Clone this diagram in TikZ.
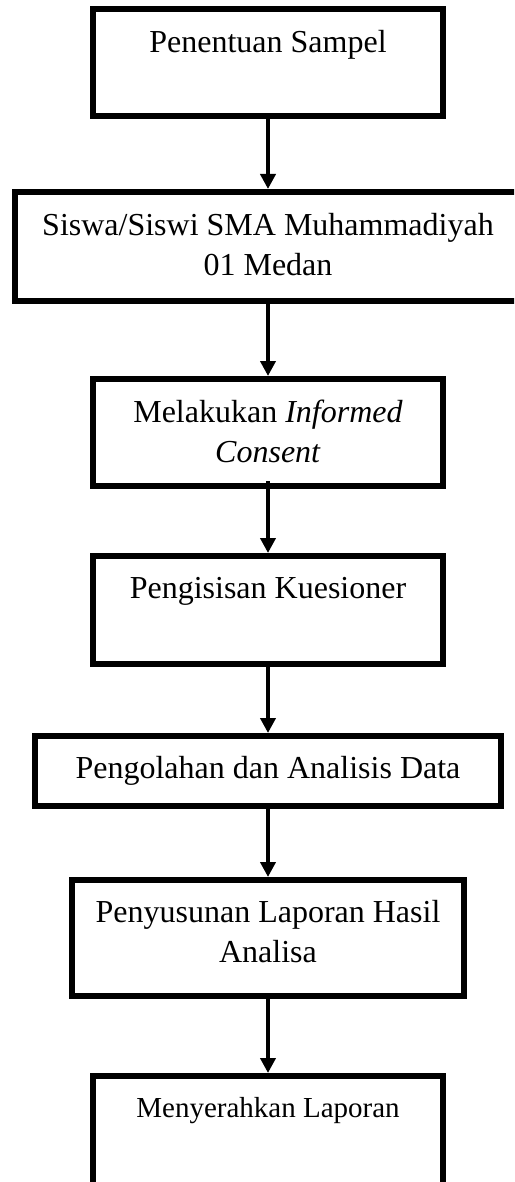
\documentclass[tikz,border=0pt]{standalone}
\usepackage{fontspec}
\setmainfont{Liberation Serif}
\usepackage{tikz}
\usetikzlibrary{positioning, arrows.meta}
\tikzstyle{flowbox}=[draw, shape=rectangle, line width=3pt, inner sep=0pt]
\tikzstyle{boxtext}=[inner sep=0pt, align=center, text height=11pt, font=\fontsize{16}{20}\selectfont]
\tikzstyle{twoline}=[boxtext, text height=31pt]
\tikzstyle{flow}=[line width=2pt, ->]
\tikzset{>={Triangle[width=7.5pt,length=7.5pt]}}

\begin{document}
\begin{tikzpicture}[x=0.5pt, y=-0.5pt]
\useasboundingbox (0,0) rectangle (514,1182);
\clip (0,0) rectangle (514,1182);

\node[flowbox, minimum width=175pt, minimum height=53.5pt] (b1) at (268, 62.5) {};
\node[flowbox, minimum width=253pt, minimum height=54.5pt] (b2) at (268, 246.5) {};
\node[flowbox, minimum width=175pt, minimum height=53.5pt] (b3) at (268, 432.5) {};
\node[flowbox, minimum width=175pt, minimum height=54pt] (b4) at (268, 610) {};
\node[flowbox, minimum width=233pt, minimum height=35pt] (b5) at (268, 771) {};
\node[flowbox, minimum width=196pt, minimum height=58pt] (b6) at (268, 938) {};
\node[flowbox, minimum width=175pt, minimum height=55pt] (b7) at (268, 1131) {};

\node[boxtext, below=12pt of b1.north] (t1) {Penentuan Sampel};
\node[twoline, below=12pt of b2.north] (t2) {Siswa/Siswi SMA Muhammadiyah\\01 Medan};
\node[twoline, below=12pt of b3.north] (t3) {Melakukan \textit{Informed}\\\textit{Consent}};
\node[boxtext, below=11.5pt of b4.north] (t4) {Pengisisan Kuesioner};
\node[boxtext, below=11.5pt of b5.north] (t5) {Pengolahan dan Analisis Data};
\node[twoline, below=11.5pt of b6.north] (t6) {Penyusunan Laporan Hasil\\Analisa};
\node[boxtext, text height=10pt, font=\fontsize{14.5}{18}\selectfont, below=12pt of b7.north] (t7) {Menyerahkan Laporan};

\draw[flow] (b1.south) -- (b2.north);
\draw[flow] (b2.south) -- (b3.north);
\draw[flow, shorten <=-4pt] (b3.south) -- (b4.north);
\draw[flow] (b4.south) -- (b5.north);
\draw[flow] (b5.south) -- (b6.north);
\draw[flow] (b6.south) -- (b7.north);
\end{tikzpicture}
\end{document}
